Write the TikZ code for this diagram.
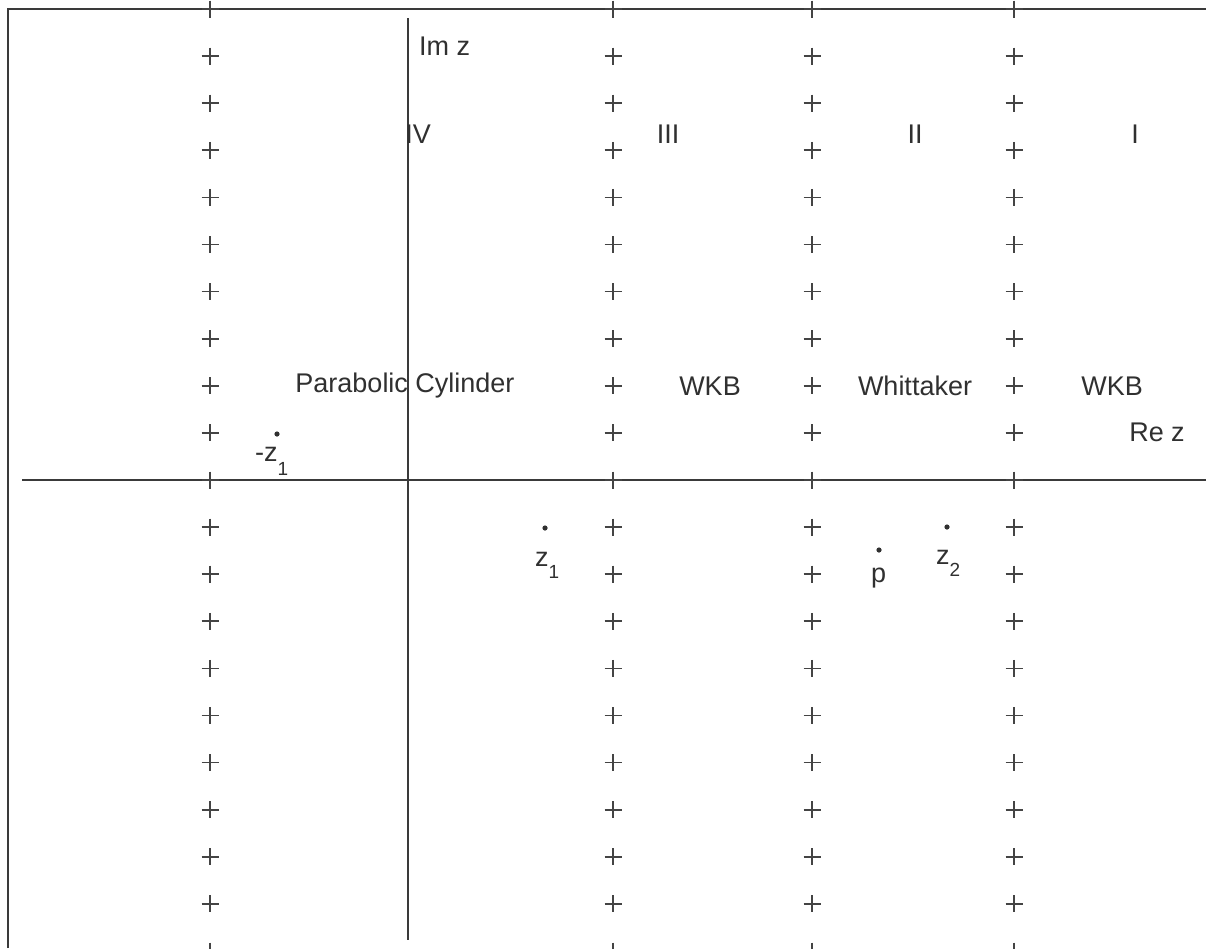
\documentclass[tikz,border=0pt]{standalone}
\usepackage{fontspec}
\setmainfont{Liberation Sans}
\definecolor{linec}{HTML}{3A3A3A}
\definecolor{plusc}{HTML}{444444}
\definecolor{txtc}{HTML}{303030}
\newcommand\lowsub[2][0.46em]{\raisebox{-#1}{\fontsize{19}{20}\selectfont #2}}
\begin{document}
\begin{tikzpicture}[x=1pt,y=-1pt,
  frame/.style={draw=linec,line width=1.8pt},
  axisline/.style={draw=linec,line width=1.6pt},
  plusmark/.style={draw=plusc,line width=1.7pt},
  lbl/.style={inner sep=0pt,text=txtc,font=\fontsize{27}{31}\selectfont},
  dotm/.style={fill=txtc}]
\useasboundingbox (0,0) rectangle (1206,948);
\fill[white] (0,0) rectangle (1206,948);
% frame (left and top)
\coordinate (fbl) at (8,948);
\coordinate (ftl) at (8,9);
\coordinate (ftr) at (1206,9);
\draw[frame] (fbl) -- (ftl) -- (ftr);
% axes
\coordinate (xa) at (22,480);
\coordinate (xb) at (1206,480);
\coordinate (ya) at (408,18);
\coordinate (yb) at (408,940);
\draw[axisline] (xa) -- (xb);
\draw[axisline] (ya) -- (yb);
% plus marks
\foreach \x in {210,613,812,1014}{
  \foreach \k in {0,...,20}{
    \draw[plusmark] ({\x-8.5},{9+47.1*\k}) -- ++(17,0) ({\x},{0.5+47.1*\k}) -- ++(0,17);
  }
}
% labels
\node[lbl,anchor=west] (imz) at (419,46) {Im z};
\node[lbl] (iv) at (418,134) {IV};
\node[lbl] (iii) at (668,134) {III};
\node[lbl] (ii) at (915,134) {II};
\node[lbl] (i) at (1135,134) {I};
\node[lbl] (pc) at (405,386) {Parabolic Cylinder};
\node[lbl] (wkba) at (710,386) {WKB};
\node[lbl] (wh) at (915,386) {Whittaker};
\node[lbl] (wkbb) at (1112,386) {WKB};
\node[lbl] (rez) at (1157,432) {Re z};
% points
\fill[dotm] (277,434) circle (2.6);
\fill[dotm] (545,528) circle (2.6);
\fill[dotm] (879,550) circle (2.6);
\fill[dotm] (947,527) circle (2.6);
\node[lbl,anchor=base west] (mz1) at (255,461) {-z\lowsub[0.55em]{1}};
\node[lbl,anchor=base west] (z1) at (535,566) {z\lowsub{1}};
\node[lbl,anchor=base west] (p) at (871,582) {p};
\node[lbl,anchor=base west] (z2) at (936,564) {z\lowsub{2}};
\end{tikzpicture}
\end{document}
